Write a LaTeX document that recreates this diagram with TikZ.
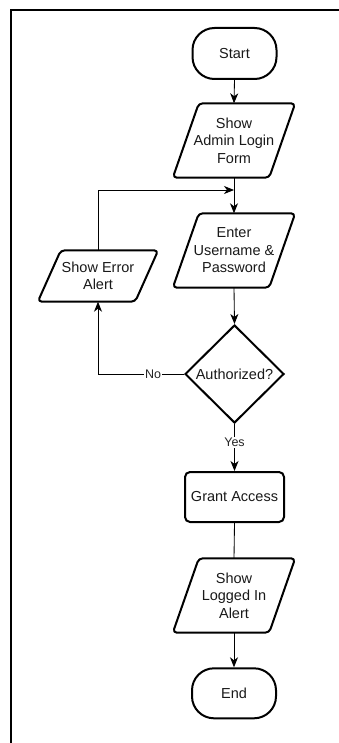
\documentclass[tikz,border=0pt]{standalone}
\usepackage{fontspec}
\setmainfont{Liberation Sans}
\usetikzlibrary{shapes.geometric,arrows.meta}
\begin{document}
\begin{tikzpicture}[x=1pt,y=-1pt,
  txt/.style={font=\fontsize{14.5}{17.5}\selectfont, align=center, text=black!90, inner sep=0pt},
  shapeline/.style={line width=2pt, rounded corners=4pt, line join=round},
  term/.style={txt, draw, line width=2pt, rounded corners=22pt, minimum width=84pt, minimum height=51pt},
  iobox/.style={txt, minimum width=122pt, minimum height=74pt},
  proc/.style={txt, draw, line width=2pt, rounded corners=5pt, minimum width=99pt, minimum height=50pt},
  decide/.style={txt, draw, line width=2pt, diamond, minimum width=99pt, minimum height=98pt},
  conn/.style={line width=0.85pt, black},
  arr/.style={conn, -{Stealth[length=10pt,width=8pt,inset=3pt]}},
  lbl/.style={font=\fontsize{12.5}{14}\selectfont, fill=white, inner sep=1pt, text=black!85}
]
\useasboundingbox (0,0) rectangle (339,743);
\draw[line width=2pt, line join=miter] (10.5,743) -- (10.5,10.5) -- (339,10.5);

\node[term] (start) at (234.5,53.5) {Start};
\node[iobox] (admin) at (234,140.5) {Show\\Admin Login\\Form};
\draw[shapeline] ([xshift=26pt]admin.north west) -- (admin.north east) -- ([xshift=-26pt]admin.south east) -- (admin.south west) -- cycle;
\node[iobox] (enter) at (234,250.5) {Enter\\Username \&\\Password};
\draw[shapeline] ([xshift=26pt]enter.north west) -- (enter.north east) -- ([xshift=-26pt]enter.south east) -- (enter.south west) -- cycle;
\node[iobox, minimum width=120pt, minimum height=51pt] (err) at (98,276) {Show Error\\Alert};
\draw[shapeline] ([xshift=23pt]err.north west) -- (err.north east) -- ([xshift=-23pt]err.south east) -- (err.south west) -- cycle;
\node[decide] (auth) at (234.5,374) {Authorized?};
\node[proc] (grant) at (234.5,497) {Grant Access};
\node[iobox] (logged) at (234,595.5) {Show\\Logged In\\Alert};
\draw[shapeline] ([xshift=26pt]logged.north west) -- (logged.north east) -- ([xshift=-26pt]logged.south east) -- (logged.south west) -- cycle;
\node[term, minimum height=50pt] (end) at (234,693.3) {End};

\coordinate (join) at (234,190);
\draw[arr] (start.south) -- (admin.north);
\draw[arr] (admin.south) -- (enter.north);
\draw[arr] (err.north) |- (join);
\draw[arr] (enter.south) -- (auth.north);
\draw[arr] (auth.west) -| node[lbl, pos=0.18] {No} (err.south);
\draw[arr] (auth.south) -- node[lbl, pos=0.39] {Yes} (grant.north);
\draw[conn] (grant.south) -- (logged.north);
\draw[arr] (logged.south) -- (end.north);
\end{tikzpicture}
\end{document}
